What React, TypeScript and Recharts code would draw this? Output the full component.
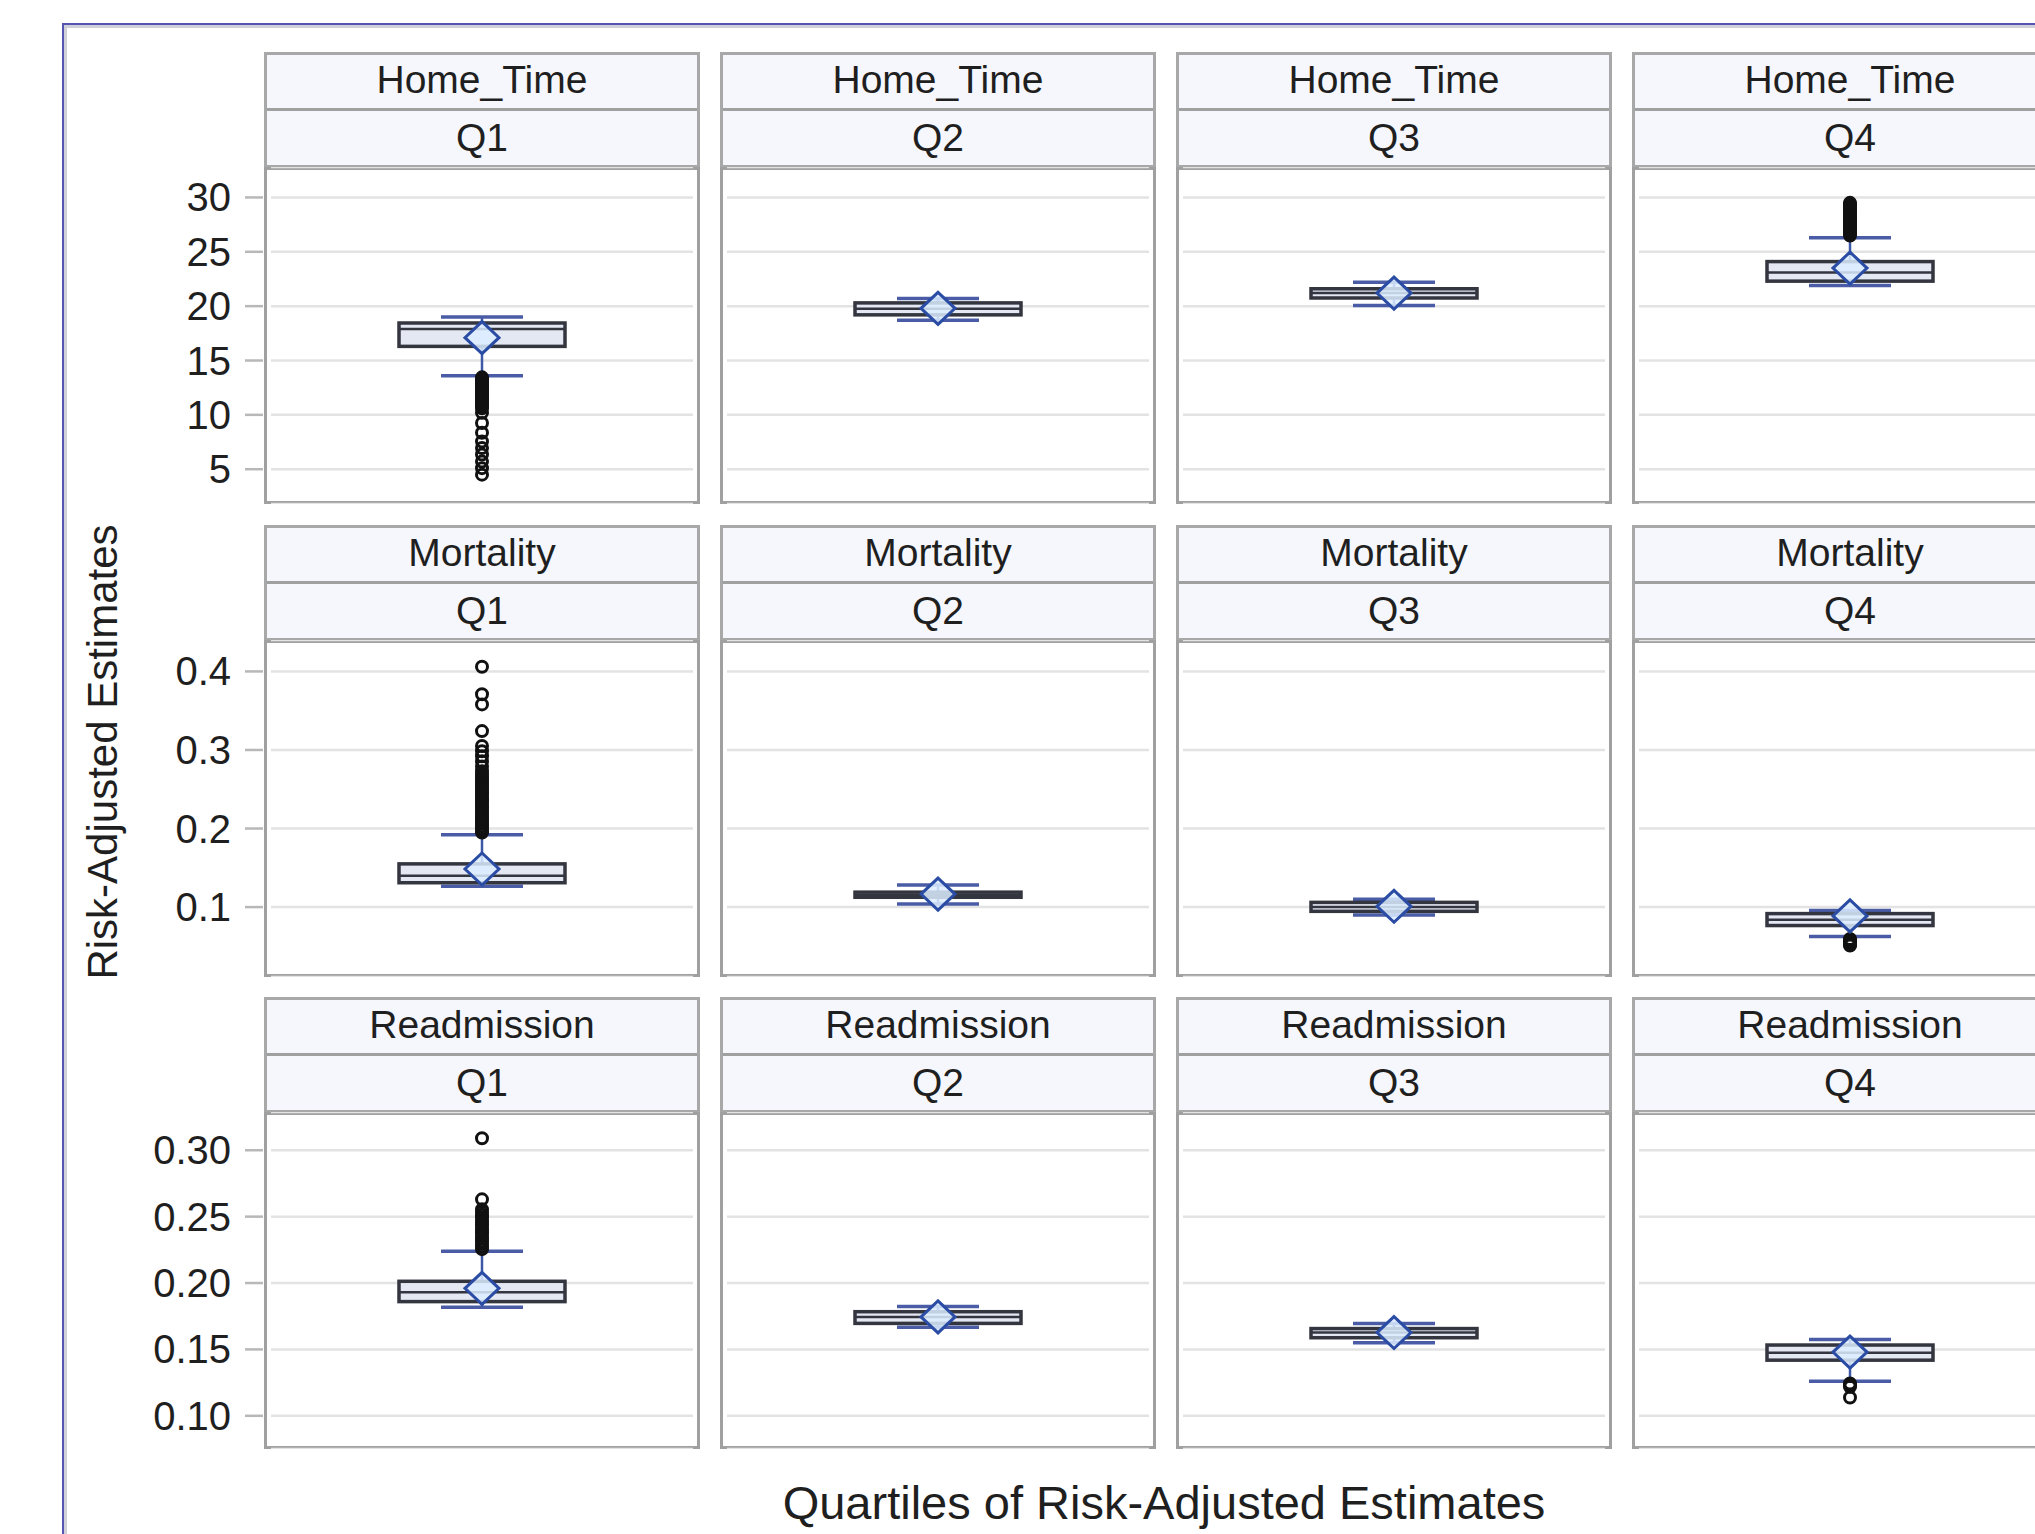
import React from 'react';
import { ComposedChart, Bar, Scatter, XAxis, YAxis, CartesianGrid } from 'recharts';

// ---------------- DATA ----------------
const quartiles = ['Q1', 'Q2', 'Q3', 'Q4'];
const measureNames = ['Home_Time', 'Mortality', 'Readmission'];

const homeTimeWhiskerLow = [13.6, 18.7, 20.05, 21.9];
const homeTimeBoxLow = [16.3, 19.2, 20.75, 22.3];
const homeTimeMedian = [17.9, 19.75, 21.2, 23.1];
const homeTimeBoxHigh = [18.45, 20.3, 21.6, 24.1];
const homeTimeWhiskerHigh = [19.0, 20.7, 22.2, 26.3];
const homeTimeMean = [17.1, 19.8, 21.2, 23.5];
const homeTimeOutliers = [
  [13.45, 13.25, 13.1, 12.9, 12.75, 12.55, 12.4, 12.2, 12.0, 11.85, 11.65, 11.5, 11.3, 11.1, 10.95, 10.75, 10.6,
    10.2, 9.25, 8.35, 7.55, 6.95, 6.35, 5.7, 5.1, 4.5],
  [],
  [],
  [26.5, 26.7, 26.9, 27.05, 27.25, 27.4, 27.6, 27.8, 27.95, 28.15, 28.3, 28.5, 28.7, 28.85, 29.05, 29.2, 29.4, 29.5],
];
const homeTimeTicks = [5, 10, 15, 20, 25, 30];
const homeTimeDomain = [1.8, 32.8];

const mortalityWhiskerLow = [0.1264, 0.104, 0.09, 0.0625];
const mortalityBoxLow = [0.131, 0.1125, 0.0946, 0.0765];
const mortalityMedian = [0.14, 0.1155, 0.1, 0.084];
const mortalityBoxHigh = [0.155, 0.119, 0.106, 0.0917];
const mortalityWhiskerHigh = [0.192, 0.128, 0.11, 0.0958];
const mortalityMean = [0.1485, 0.1165, 0.101, 0.0888];
const mortalityOutliers = [
  [0.406, 0.371, 0.358, 0.324, 0.305, 0.2985, 0.292, 0.2855, 0.279, 0.273, 0.269, 0.266, 0.263, 0.26, 0.257,
    0.254, 0.251, 0.248, 0.245, 0.242, 0.239, 0.236, 0.233, 0.23, 0.227, 0.224, 0.221, 0.218, 0.215, 0.212,
    0.209, 0.206, 0.203, 0.2, 0.197, 0.195],
  [],
  [],
  [0.0595, 0.0583, 0.057, 0.0558, 0.0545, 0.0532, 0.052, 0.051],
];
const mortalityTicks = [0.1, 0.2, 0.3, 0.4];
const mortalityDomain = [0.011, 0.44];

const readmissionWhiskerLow = [0.1818, 0.1667, 0.155, 0.126];
const readmissionBoxLow = [0.186, 0.1696, 0.1588, 0.1419];
const readmissionMedian = [0.193, 0.1745, 0.1627, 0.1475];
const readmissionBoxHigh = [0.2013, 0.1784, 0.1657, 0.1533];
const readmissionWhiskerHigh = [0.224, 0.1824, 0.1696, 0.1575];
const readmissionMean = [0.196, 0.1745, 0.1627, 0.148];
const readmissionOutliers = [
  [0.309, 0.263, 0.2555, 0.2535, 0.2515, 0.2495, 0.2475, 0.2455, 0.2435, 0.2415, 0.2395, 0.2375, 0.2355,
    0.2335, 0.2315, 0.2295, 0.2275, 0.2255],
  [],
  [],
  [0.1243, 0.123, 0.1218, 0.1138],
];
const readmissionTicks = [0.1, 0.15, 0.2, 0.25, 0.3];
const readmissionDomain = [0.075, 0.3288];

const measures = [
  {
    name: measureNames[0], lo: homeTimeWhiskerLow, q1: homeTimeBoxLow, med: homeTimeMedian, q3: homeTimeBoxHigh,
    hi: homeTimeWhiskerHigh, mean: homeTimeMean, out: homeTimeOutliers, ticks: homeTimeTicks, domain: homeTimeDomain,
    fmt: (v: number) => String(v),
  },
  {
    name: measureNames[1], lo: mortalityWhiskerLow, q1: mortalityBoxLow, med: mortalityMedian, q3: mortalityBoxHigh,
    hi: mortalityWhiskerHigh, mean: mortalityMean, out: mortalityOutliers, ticks: mortalityTicks, domain: mortalityDomain,
    fmt: (v: number) => v.toFixed(1),
  },
  {
    name: measureNames[2], lo: readmissionWhiskerLow, q1: readmissionBoxLow, med: readmissionMedian, q3: readmissionBoxHigh,
    hi: readmissionWhiskerHigh, mean: readmissionMean, out: readmissionOutliers, ticks: readmissionTicks,
    domain: readmissionDomain, fmt: (v: number) => v.toFixed(2),
  },
];

// ---------------- LAYOUT ----------------
const FONT = "'Liberation Sans', Arial, Helvetica, sans-serif";
const TEXT = '#1f1f1f';
const COL_LEFT = [264, 720, 1176, 1632];
const PANEL_W = 436;
const ROW_TOP = [52, 525, 997];
const STRIP_H = 115;
const PLOT_H = 337;
const Y_AREA = 200;
const INSET = 7;

const BoxShape = (props: any) => {
  const { x, y, width, height, payload } = props;
  if (x == null || y == null) return null;
  const top = Math.min(y, y + height);
  const h = Math.abs(height);
  const medY = top + (h * (payload.q3 - payload.med)) / (payload.q3 - payload.q1);
  return (
    <g>
      <rect x={x} y={top} width={width} height={h} fill="#e4e8f3" stroke="#33353f" strokeWidth={3.5} />
      <line x1={x} x2={x + width} y1={medY} y2={medY} stroke="#33353f" strokeWidth={2.5} />
    </g>
  );
};

const WhiskerShape = (props: any) => {
  const { x, y, width, height } = props;
  if (x == null || y == null) return null;
  const top = Math.min(y, y + height);
  const bot = Math.max(y, y + height);
  const cx = x + width / 2;
  return (
    <g>
      <line x1={cx} x2={cx} y1={top} y2={bot} stroke="#3d58a6" strokeWidth={2.5} />
      <line x1={x} x2={x + width} y1={top} y2={top} stroke="#4a5ca6" strokeWidth={3.5} />
      <line x1={x} x2={x + width} y1={bot} y2={bot} stroke="#4a5ca6" strokeWidth={3.5} />
    </g>
  );
};

const MeanShape = (props: any) => {
  const { cx, cy } = props;
  if (cx == null || cy == null) return null;
  const pts = `${cx},${cy - 16} ${cx + 17},${cy} ${cx},${cy + 16} ${cx - 17},${cy}`;
  return <polygon points={pts} fill="#dcecff" fillOpacity={0.85} stroke="#2a4ca4" strokeWidth={3} />;
};

const OutlierShape = (props: any) => {
  const { cx, cy } = props;
  if (cx == null || cy == null) return null;
  return <circle cx={cx} cy={cy} r={5.5} fill="none" stroke="#111" strokeWidth={3} />;
};

function Panel({ row, col }: { row: number; col: number }) {
  const m = measures[row];
  const data = [
    {
      cat: quartiles[col], x: 0.5, lo: m.lo[col], q1: m.q1[col], med: m.med[col], q3: m.q3[col], hi: m.hi[col],
    },
  ];
  const outData = m.out[col].map((v) => ({ x: 0.5, v }));
  const meanData = [{ x: 0.5, v: m.mean[col] }];
  const left = COL_LEFT[col];
  const plotTop = ROW_TOP[row] + STRIP_H;

  const tick = (p: any) => {
    if (col !== 0) return <g />;
    const { x, y, payload } = p;
    return (
      <g>
        <line x1={x - 26} x2={x - 8} y1={y} y2={y} stroke="#b8b8b8" strokeWidth={2.5} />
        <text x={x - 40} y={y} textAnchor="end" dominantBaseline="central" fontSize={40} fill={TEXT} fontFamily={FONT}>
          {m.fmt(payload.value)}
        </text>
      </g>
    );
  };

  return (
    <>
      <div
        style={{
          position: 'absolute', left, top: ROW_TOP[row], width: PANEL_W, height: STRIP_H + 1,
          boxSizing: 'border-box', border: '3px solid #a8a8a8', background: '#f5f7fc',
        }}
      >
        <div style={{ position: 'absolute', left: 0, right: 0, top: 53, height: 3, background: '#a0a0a0' }} />
        <div
          style={{
            position: 'absolute', left: 0, right: 0, top: -2, height: 53, lineHeight: '53px', textAlign: 'center',
            fontFamily: FONT, fontSize: 39, color: TEXT,
          }}
        >
          {m.name}
        </div>
        <div
          style={{
            position: 'absolute', left: 0, right: 0, top: 56, height: 54, lineHeight: '54px', textAlign: 'center',
            fontFamily: FONT, fontSize: 39, color: TEXT,
          }}
        >
          {quartiles[col]}
        </div>
      </div>
      <div
        style={{
          position: 'absolute', left, top: plotTop, width: PANEL_W, height: PLOT_H, boxSizing: 'border-box',
          border: '3px solid #a0a0a0', background: '#fff',
        }}
      />
      <div style={{ position: 'absolute', left: left - Y_AREA, top: plotTop, width: Y_AREA + PANEL_W, height: PLOT_H }}>
        <ComposedChart
          width={Y_AREA + PANEL_W}
          height={PLOT_H}
          data={data}
          margin={{ top: 0, right: INSET, bottom: 0, left: 0 }}
        >
          <CartesianGrid xAxisId="box" vertical={false} stroke="#e3e3e3" strokeWidth={2.5} />
          <XAxis xAxisId="wh" dataKey="cat" type="category" hide />
          <XAxis xAxisId="box" dataKey="cat" type="category" hide />
          <XAxis xAxisId="num" dataKey="x" type="number" domain={[0, 1]} hide />
          <YAxis
            domain={m.domain}
            ticks={m.ticks}
            allowDataOverflow
            interval={0}
            width={Y_AREA + INSET}
            tick={tick}
            tickLine={false}
            axisLine={false}
            tickSize={0}
            tickMargin={0}
          />
          <Bar xAxisId="wh" dataKey={(d: any) => [d.lo, d.hi]} barSize={82} shape={WhiskerShape} isAnimationActive={false} />
          <Bar xAxisId="box" dataKey={(d: any) => [d.q1, d.q3]} barSize={166} shape={BoxShape} isAnimationActive={false} />
          <Scatter xAxisId="num" data={outData} dataKey="v" shape={OutlierShape} isAnimationActive={false} />
          <Scatter xAxisId="num" data={meanData} dataKey="v" shape={MeanShape} isAnimationActive={false} />
        </ComposedChart>
      </div>
    </>
  );
}

export default function App() {
  const panels: React.ReactNode[] = [];
  for (let r = 0; r < 3; r++) {
    for (let c = 0; c < 4; c++) {
      panels.push(<Panel key={`${r}-${c}`} row={r} col={c} />);
    }
  }
  return (
    <div
      style={{
        position: 'absolute', left: 0, top: 0, width: 2035, height: 1534, overflow: 'hidden', background: '#fff',
      }}
    >
      <div
        style={{
          position: 'absolute', left: 62, top: 23, width: 3000, height: 3000, borderLeft: '2px solid #5656b2',
          borderTop: '2px solid #5656b2', boxShadow: 'inset 3px 3px 0 0 #d0d0d8',
        }}
      />
      {panels}
      <svg style={{ position: 'absolute', left: 0, top: 0 }} width={2035} height={1534} pointerEvents="none">
        <text
          x={102}
          y={752}
          transform="rotate(-90 102 752)"
          textAnchor="middle"
          dominantBaseline="central"
          fontFamily={FONT}
          fontSize={42}
          fill={TEXT}
        >
          Risk-Adjusted Estimates
        </text>
        <text x={1164} y={1502} textAnchor="middle" dominantBaseline="central" fontFamily={FONT} fontSize={47} fill={TEXT}>
          Quartiles of Risk-Adjusted Estimates
        </text>
      </svg>
    </div>
  );
}
